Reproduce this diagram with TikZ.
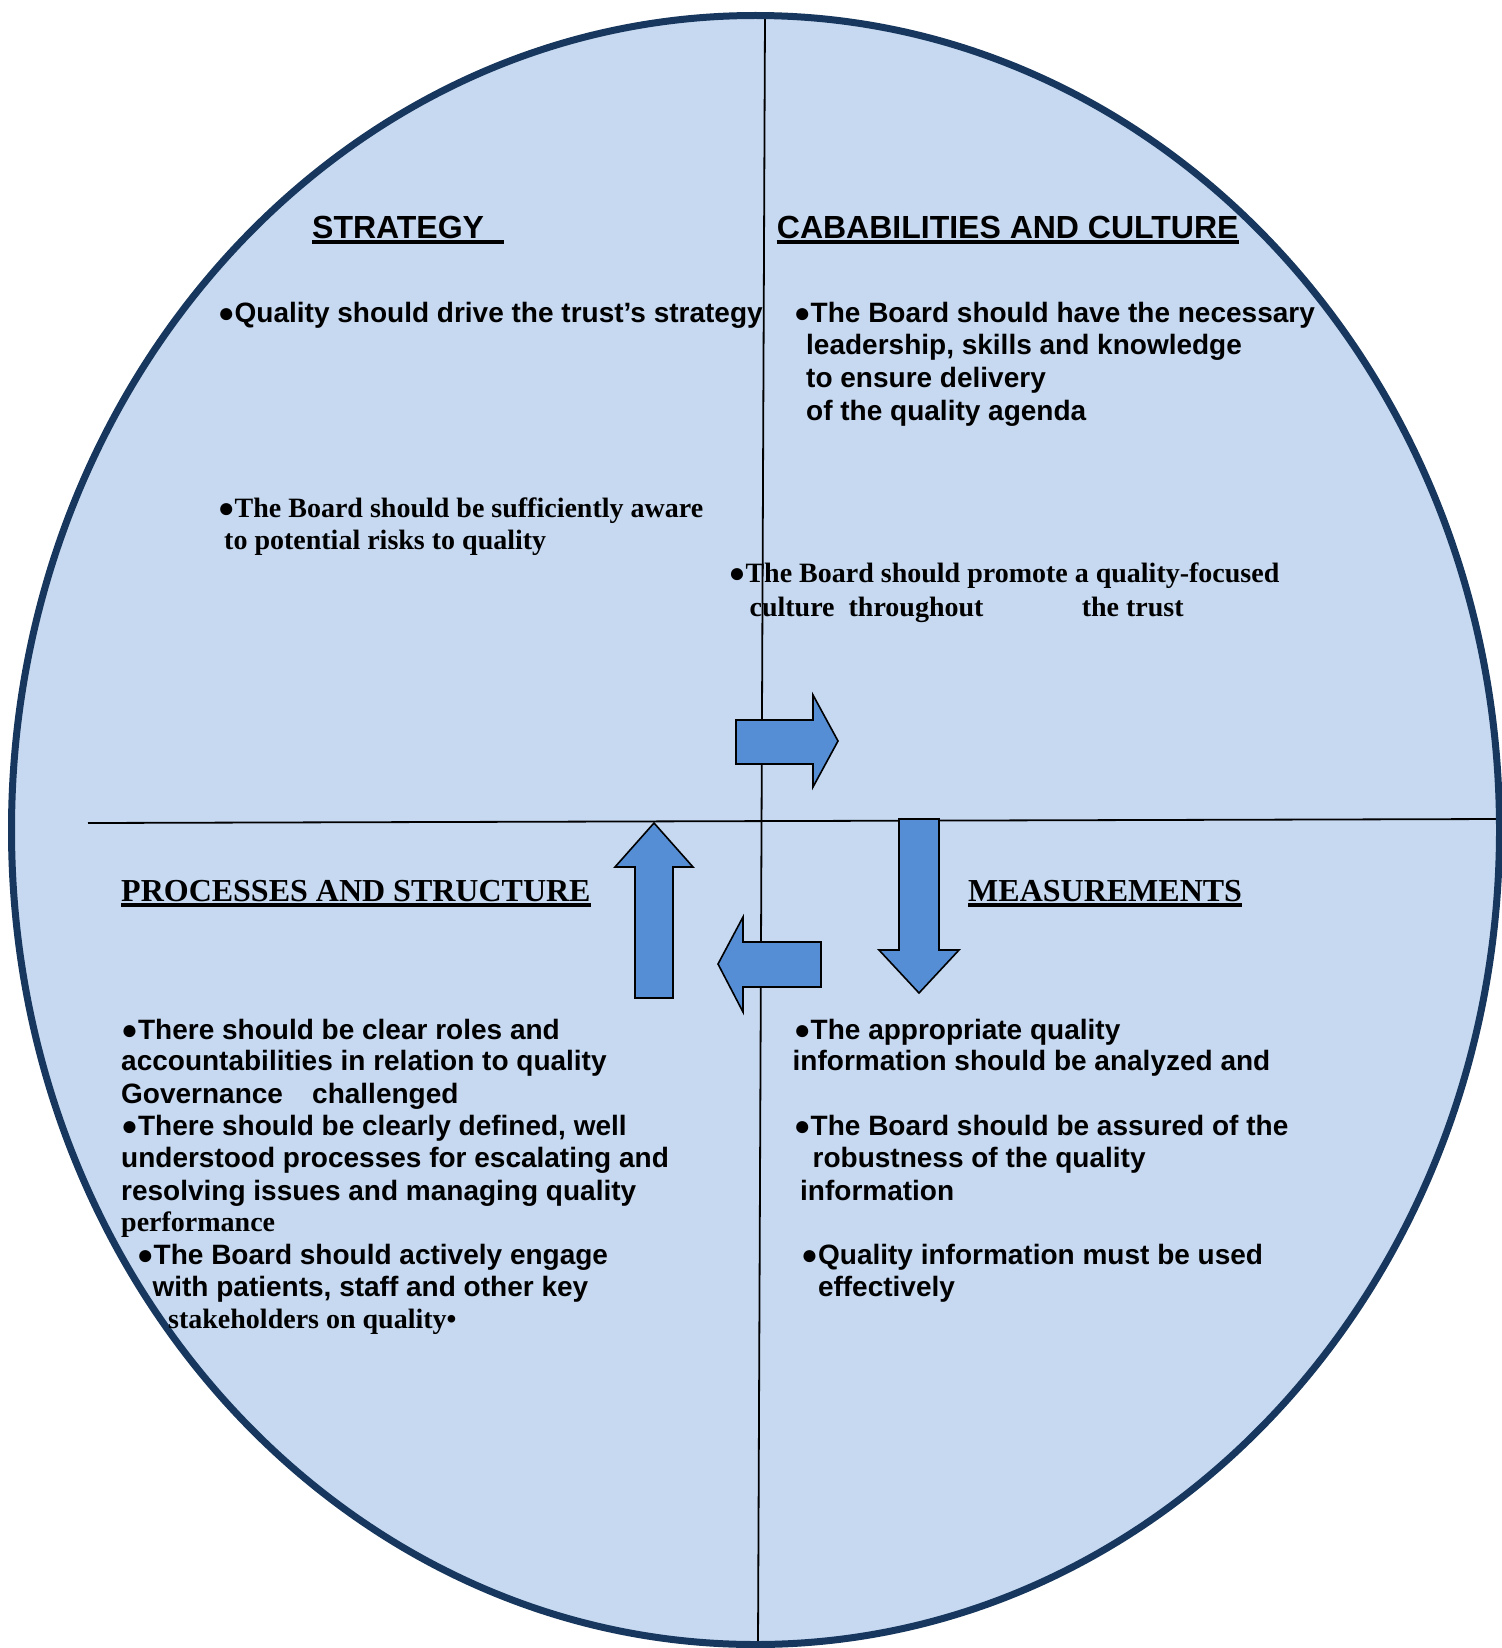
\documentclass[tikz,border=0pt]{standalone}
\usepackage{fontspec}
\setmainfont{Liberation Serif}
\setsansfont{Liberation Sans}
\definecolor{discfill}{RGB}{198,217,241}
\definecolor{discline}{RGB}{23,55,94}
\definecolor{arrowfill}{RGB}{85,142,213}
\tikzset{
  sanstext/.style={font=\sffamily\bfseries\fontsize{28}{32}\selectfont, inner sep=0pt, anchor=base west},
  seriftext/.style={font=\rmfamily\bfseries\fontsize{28}{32}\selectfont, inner sep=0pt, anchor=base west},
  sanshead/.style={font=\sffamily\bfseries\fontsize{32}{36}\selectfont, inner sep=0pt, anchor=base west},
  serifhead/.style={font=\rmfamily\bfseries\fontsize{32}{36}\selectfont, inner sep=0pt, anchor=base west},
  uline/.style={line width=3.7pt},
  divider/.style={line width=1.8pt, black},
  blockarrow/.style={fill=arrowfill, draw=black, line width=1.6pt, line join=miter},
}
\begin{document}
\begin{tikzpicture}[x=1pt,y=-1pt]
\useasboundingbox (0,0) rectangle (1501,1648);
% disc
\fill[discfill] (755.5,830) ellipse [x radius=744pt, y radius=814.5pt];
% dividers
\coordinate (vtop) at (765,15);
\coordinate (vbot) at (758,1645);
\coordinate (hleft) at (88,823);
\coordinate (hright) at (1501,819);
\draw[divider] (vtop) -- (vbot);
\draw[divider] (hleft) -- (hright);
\draw[discline, line width=7pt] (755.5,830) ellipse [x radius=744pt, y radius=814.5pt];
% block arrows
\draw[blockarrow] (736,720) -- (813,720) -- (813,695) -- (838,741) -- (813,787) -- (813,764) -- (736,764) -- cycle;
\draw[blockarrow] (899,819) -- (939,819) -- (939,950) -- (959,950) -- (919,993) -- (879,950) -- (899,950) -- cycle;
\draw[blockarrow] (821,942) -- (743,942) -- (743,917) -- (718,964) -- (743,1012) -- (743,987) -- (821,987) -- cycle;
\draw[blockarrow] (635,998) -- (635,867) -- (615,867) -- (654,823) -- (693,867) -- (673,867) -- (673,998) -- cycle;
% headings
\node[sanshead] (hstrat) at (312,238) {STRATEGY\hspace*{20pt}};
\draw[uline] ([yshift=-4.3pt]hstrat.base west) -- ([yshift=-4.3pt]hstrat.base east);
\node[sanshead] (hcap) at (776.7,238) {CABABILITIES AND CULTURE};
\draw[uline] ([yshift=-4.3pt]hcap.base west) -- ([yshift=-4.3pt]hcap.base east);
\node[serifhead] (hproc) at (121,901) {PROCESSES AND STRUCTURE};
\draw[uline] ([yshift=-4.3pt]hproc.base west) -- ([yshift=-4.3pt]hproc.base east);
\node[serifhead] (hmeas) at (968,901) {MEASUREMENTS};
\draw[uline] ([yshift=-4.3pt]hmeas.base west) -- ([yshift=-4.3pt]hmeas.base east);
% strategy
\node[sanstext] (s1) at (217.6,322) {●Quality should drive the trust’s strategy};
\node[seriftext] (s2a) at (217.6,517) {●The Board should be sufficiently aware};
\node[seriftext] (s2b) at (224,549.5) {to potential risks to quality};
% capabilities
\node[sanstext] (c1a) at (793.6,322) {●The Board should have the necessary};
\node[sanstext] (c1b) at (806,354.8) {leadership, skills and knowledge};
\node[sanstext] (c1c) at (806,387.5) {to ensure delivery};
\node[sanstext] (c1d) at (806,420) {of the quality agenda};
\node[seriftext] (c2a) at (728.4,582) {●The Board should promote a quality-focused};
\node[seriftext] (c2b) at (749.4,616) {culture\hspace*{14pt}throughout};
\node[seriftext] (c2c) at (1081.6,616) {the trust};
% processes
\node[sanstext] (p1a) at (121,1039) {●There should be clear roles and};
\node[sanstext] (p1b) at (121,1070.6) {accountabilities in relation to quality};
\node[sanstext] (p1c) at (121,1103) {Governance};
\node[sanstext] (p1d) at (312,1103) {challenged};
\node[sanstext] (p2a) at (121,1135.7) {●There should be clearly defined, well};
\node[sanstext] (p2b) at (121,1167.5) {understood processes for escalating and};
\node[sanstext] (p2c) at (121,1200) {resolving issues and managing quality};
\node[seriftext] (p2d) at (121,1231) {performance};
\node[sanstext] (p3a) at (136.6,1264) {●The Board should actively engage};
\node[sanstext] (p3b) at (152.4,1296.6) {with patients, staff and other key};
\node[seriftext] (p3c) at (168,1328) {stakeholders on quality•};
% measurements
\node[sanstext] (m1a) at (793.6,1039) {●The appropriate quality};
\node[sanstext] (m1b) at (792.5,1070.6) {information should be analyzed and};
\node[sanstext] (m2a) at (793.6,1135.7) {●The Board should be assured of the};
\node[sanstext] (m2b) at (812.5,1167.5) {robustness of the quality};
\node[sanstext] (m2c) at (800,1200) {information};
\node[sanstext] (m3a) at (801,1264) {●Quality information must be used};
\node[sanstext] (m3b) at (817.8,1296.6) {effectively};
\end{tikzpicture}
\end{document}
